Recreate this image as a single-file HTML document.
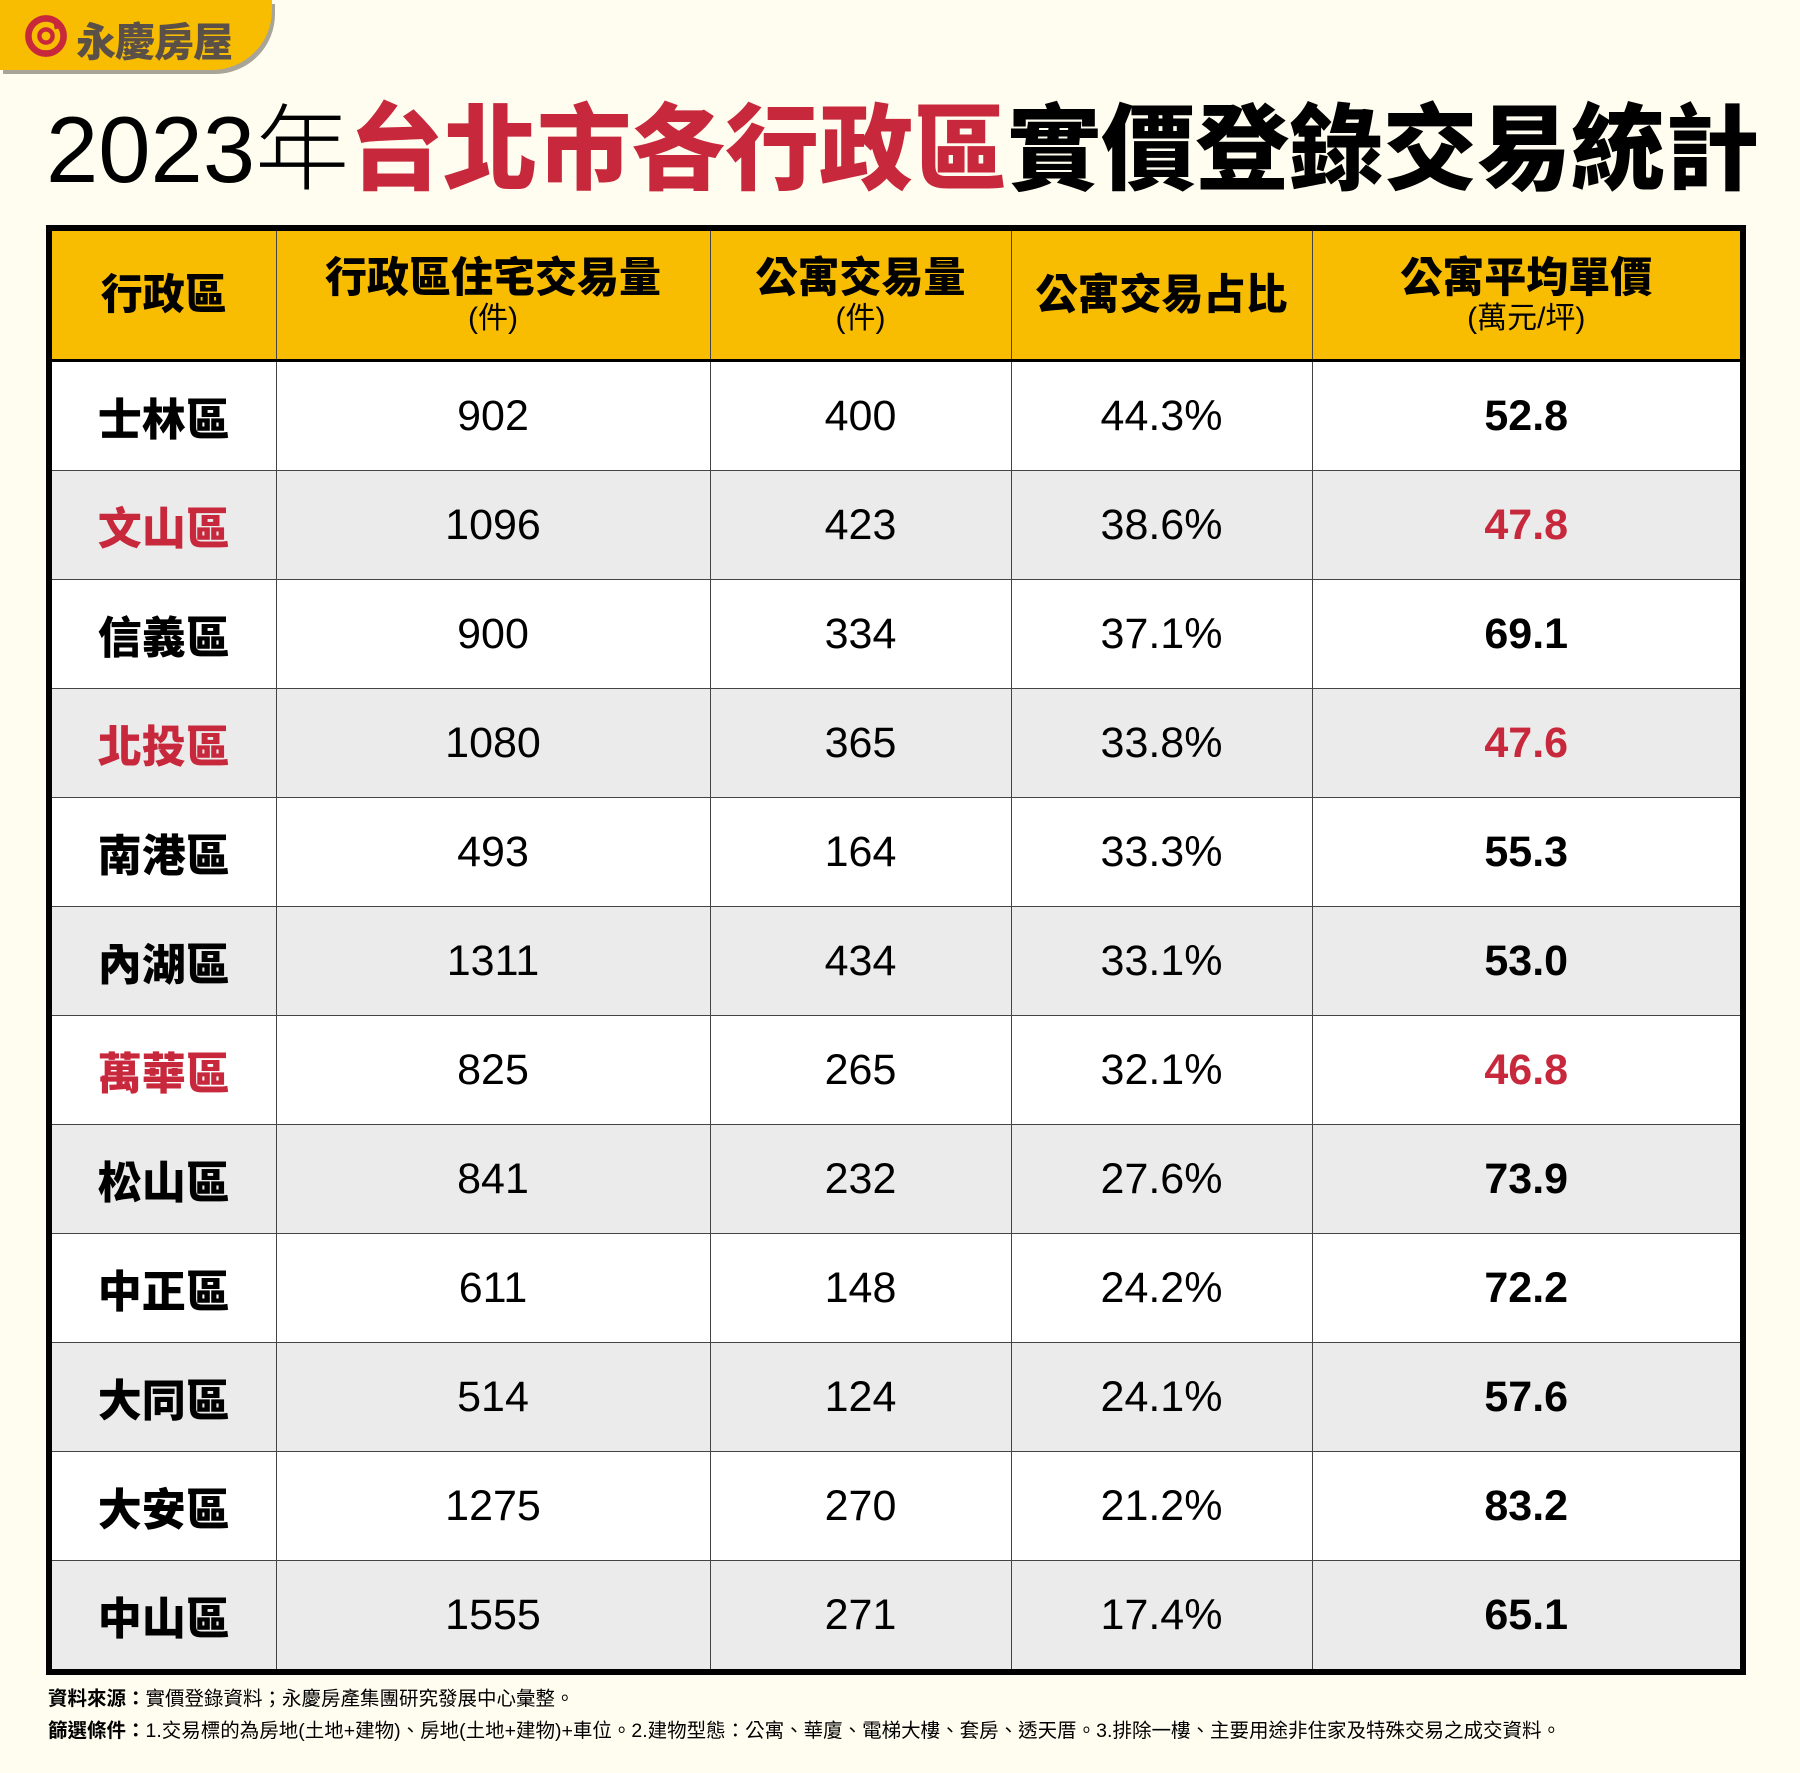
<!DOCTYPE html>
<html><head><meta charset="utf-8"><style>
body{margin:0;width:1800px;height:1773px;background:#fffdef;position:relative;overflow:hidden;font-family:"Liberation Sans","Noto Sans CJK TC",sans-serif;}
.tab{position:absolute;left:0;top:0;width:272px;height:70px;background:#f8bd00;border-bottom-right-radius:60px;box-shadow:3px 4px 0 #a8a49a;}
.logo{position:absolute;left:24px;top:14px;width:44px;height:44px;}
.lt{position:absolute;left:76px;top:10px;font-size:40px;font-weight:900;color:#5a5048;letter-spacing:-1px;}
.title{position:absolute;left:46px;top:98px;font-size:94px;white-space:nowrap;line-height:1.1;}
.title .a{font-weight:300}
.title .r{color:#c8283c;font-weight:900}
.title .b{font-weight:900}
table{position:absolute;left:46px;top:225px;width:1700px;height:1442px;border-collapse:collapse;border:6px solid #000;table-layout:fixed}
td,th{border:1.5px solid #444;text-align:center;padding:0}
th{background:#f8bd00;font-size:42px;font-weight:900;height:128px;border-bottom:3px solid #000;line-height:1.15}
th small{display:block;font-size:30px;font-weight:400}
td{font-size:43px;height:108px}
tr:nth-child(even) td{background:#fff}
tr:nth-child(odd) td{background:#ebebeb}
td:first-child{font-weight:900;font-size:44px}
td:last-child{font-weight:700}
.red{color:#c8283c}
.foot{position:absolute;left:48px;font-size:19.5px;white-space:nowrap}
</style></head><body>
<div class="tab"></div>
<svg class="logo" viewBox="0 0 40 40"><circle cx="20" cy="20" r="16" fill="none" stroke="#c8283c" stroke-width="6"/><circle cx="20" cy="20" r="6" fill="none" stroke="#c8283c" stroke-width="4"/><path d="M26 4 L36 12 L28 14 Z" fill="#c8283c"/></svg>
<div class="lt">永慶房屋</div>
<div class="title"><span class="a">2023年</span><span class="r">台北市各行政區</span><span class="b">實價登錄交易統計</span></div>
<table>
<colgroup><col style="width:227px"><col style="width:434px"><col style="width:301px"><col style="width:301px"><col></colgroup>
<tr><th>行政區</th><th>行政區住宅交易量<small>(件)</small></th><th>公寓交易量<small>(件)</small></th><th>公寓交易占比</th><th>公寓平均單價<small>(萬元/坪)</small></th></tr>
<tr><td>士林區</td><td>902</td><td>400</td><td>44.3%</td><td>52.8</td></tr>
<tr><td class="red">文山區</td><td>1096</td><td>423</td><td>38.6%</td><td class="red">47.8</td></tr>
<tr><td>信義區</td><td>900</td><td>334</td><td>37.1%</td><td>69.1</td></tr>
<tr><td class="red">北投區</td><td>1080</td><td>365</td><td>33.8%</td><td class="red">47.6</td></tr>
<tr><td>南港區</td><td>493</td><td>164</td><td>33.3%</td><td>55.3</td></tr>
<tr><td>內湖區</td><td>1311</td><td>434</td><td>33.1%</td><td>53.0</td></tr>
<tr><td class="red">萬華區</td><td>825</td><td>265</td><td>32.1%</td><td class="red">46.8</td></tr>
<tr><td>松山區</td><td>841</td><td>232</td><td>27.6%</td><td>73.9</td></tr>
<tr><td>中正區</td><td>611</td><td>148</td><td>24.2%</td><td>72.2</td></tr>
<tr><td>大同區</td><td>514</td><td>124</td><td>24.1%</td><td>57.6</td></tr>
<tr><td>大安區</td><td>1275</td><td>270</td><td>21.2%</td><td>83.2</td></tr>
<tr><td>中山區</td><td>1555</td><td>271</td><td>17.4%</td><td>65.1</td></tr>
</table>
<div class="foot" style="top:1682px"><b>資料來源：</b>實價登錄資料；永慶房產集團研究發展中心彙整。</div>
<div class="foot" style="top:1714px"><b>篩選條件：</b>1.交易標的為房地(土地+建物)、房地(土地+建物)+車位。2.建物型態：公寓、華廈、電梯大樓、套房、透天厝。3.排除一樓、主要用途非住家及特殊交易之成交資料。</div>
</body></html>
